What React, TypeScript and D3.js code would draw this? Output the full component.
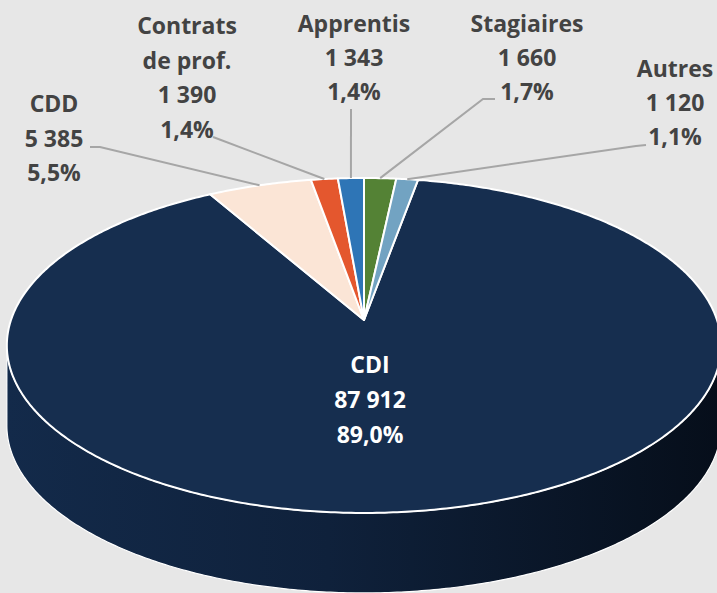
import React from 'react';
import * as d3 from 'd3';

const categories = ['CDI', 'CDD', 'Contrats de prof.', 'Apprentis', 'Stagiaires', 'Autres'];
const labelLines = [['CDI'], ['CDD'], ['Contrats', 'de prof.'], ['Apprentis'], ['Stagiaires'], ['Autres']];
const values = [87912, 5385, 1390, 1343, 1660, 1120];
const valueLabels = ['87 912', '5 385', '1 390', '1 343', '1 660', '1 120'];
const percentLabels = ['89,0%', '5,5%', '1,4%', '1,4%', '1,7%', '1,1%'];
const colors = ['#162e4f', '#fbe5d6', '#e4572e', '#2e75b6', '#548235', '#72a3c2'];

// layout
const W = 717;
const H = 593;
const CX = 364;
const CY = 320;
const A = 163.6;
const B = 353;
const C = -0.152;
const DEPTH = 80;
const START = (10.13 * Math.PI) / 180;

const labelPos: [number, number, number][] = [
  [370, 373, 35],
  [54, 112, 34.5],
  [187, 34, 34.5],
  [354, 32, 34],
  [527, 32, 34],
  [675, 77, 34],
];
const leaderStarts: ([number, number][] | null)[] = [
  null,
  [[90, 147], [100, 147]],
  [[213, 137]],
  [[351, 109]],
  [[495, 99], [483, 99]],
  [[646, 145], [636, 146]],
];

function proj(theta: number, r = 1, dz = 0): [number, number] {
  const u = r * Math.sin(theta);
  const v = -r * Math.cos(theta);
  const w = 1 + C * v;
  return [CX + (B * u) / w, CY + (A * v) / w + dz];
}

function sampleArc(a0: number, a1: number, dz = 0): [number, number][] {
  const n = Math.max(2, Math.ceil(Math.abs(a1 - a0) / 0.01));
  const pts: [number, number][] = [];
  for (let i = 0; i <= n; i++) {
    pts.push(proj(a0 + ((a1 - a0) * i) / n, 1, dz));
  }
  return pts;
}

export default function App() {
  const pie = d3
    .pie<number>()
    .sort(null)
    .value((d) => d)
    .startAngle(START)
    .endAngle(START + 2 * Math.PI);
  const arcs = pie(values);
  const line = d3.line<[number, number]>().x((d) => d[0]).y((d) => d[1]);

  let tMax = 0;
  let tMin = 0;
  let xMax = -Infinity;
  let xMin = Infinity;
  for (let t = 0; t < 2 * Math.PI; t += 0.002) {
    const [x] = proj(t);
    if (x > xMax) { xMax = x; tMax = t; }
    if (x < xMin) { xMin = x; tMin = t; }
  }
  const sidePts = [...sampleArc(tMax, tMin, 0), ...sampleArc(tMin, tMax, DEPTH)];
  const sidePath = line(sidePts) + 'Z';
  const center = proj(0, 0);

  return (
    <svg
      width={W}
      height={H}
      style={{ position: 'absolute', left: 0, top: 0, display: 'block' }}
      fontFamily="'Open Sans', sans-serif"
    >
      <defs>
        <linearGradient id="side" x1="0" x2="1" y1="0" y2="0">
          <stop offset="0" stopColor="#132a4a" />
          <stop offset="0.45" stopColor="#0f213b" />
          <stop offset="1" stopColor="#060e1a" />
        </linearGradient>
      </defs>
      <rect width={W} height={H} fill="#e7e7e7" />
      <path d={sidePath} fill="url(#side)" stroke="#ffffff" strokeWidth={1.2} />
      {arcs.map((a, i) => {
        const pts = [center, ...sampleArc(a.startAngle, a.endAngle)];
        return (
          <path
            key={categories[i]}
            d={line(pts) + 'Z'}
            fill={colors[i]}
            stroke="#ffffff"
            strokeWidth={2}
            strokeLinejoin="round"
          />
        );
      })}
      {arcs.map((a, i) => {
        const starts = leaderStarts[i];
        if (!starts) return null;
        const mid = (a.startAngle + a.endAngle) / 2;
        const end = proj(mid, 1);
        return (
          <path
            key={'l' + i}
            d={line([...starts, end]) || ''}
            fill="none"
            stroke="#a6a6a6"
            strokeWidth={2}
          />
        );
      })}
      {categories.map((cat, i) => {
        const [x, y, lh] = labelPos[i];
        const lines = [...labelLines[i], valueLabels[i], percentLabels[i]];
        return (
          <text
            key={'t' + cat}
            x={x}
            y={y}
            textAnchor="middle"
            fontSize={23}
            fontWeight={700}
            fill={i === 0 ? '#ffffff' : '#434343'}
          >
            {lines.map((s, j) => (
              <tspan key={j} x={x} y={y + j * lh}>
                {s}
              </tspan>
            ))}
          </text>
        );
      })}
    </svg>
  );
}
